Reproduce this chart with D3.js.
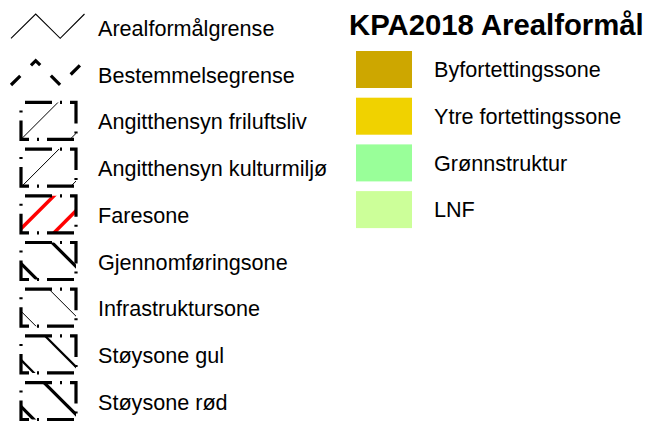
<!DOCTYPE html>
<html>
<head>
<meta charset="utf-8">
<script src="https://cdn.jsdelivr.net/npm/d3@7"></script>
<style>
html,body{margin:0;padding:0;background:#fff;}
svg{display:block;}
text{font-family:"Liberation Sans",Arial,sans-serif;fill:#000;}
</style>
</head>
<body>
<svg id="chart" width="650" height="421"></svg>
<script>
// ---- data ----
const title = "KPA2018 Arealformål";
const lineLabels = ["Arealformålgrense","Bestemmelsegrense","Angitthensyn friluftsliv","Angitthensyn kulturmiljø","Faresone","Gjennomføringsone","Infrastruktursone","Støysone gul","Støysone rød"];
const areaLabels = ["Byfortettingssone","Ytre fortettingssone","Grønnstruktur","LNF"];
const areaColors = ["#CDA700","#F0D200","#99FF99","#CCFF99"];

// ---- symbol styles (per line entry) ----
const symbolStyles = [
  {type:"zigzag"},
  {type:"dashzigzag"},
  {type:"hatch", dir:"/", offsets:[37,86], color:"#000", width:1},
  {type:"hatch", dir:"/", offsets:[38,87], color:"#000", width:1},
  {type:"hatch", dir:"/", offsets:[33,70], color:"#FF0000", width:3.5},
  {type:"hatch", dir:"\\", offsets:[31,-21], color:"#000", width:3.2},
  {type:"hatch", dir:"\\", offsets:[28,-22], color:"#000", width:1},
  {type:"hatch", dir:"\\", offsets:[24,-24], color:"#000", width:2.2},
  {type:"hatch", dir:"\\", offsets:[23,-24], color:"#000", width:3.2}
];

const svg = d3.select("#chart");
const step = 46.7;
const yLeft = d3.scaleLinear().domain([0, 1]).range([36, 36 + step]);      // label baselines
const yRight = d3.scaleLinear().domain([0, 1]).range([77.3, 77.3 + step]);

// ---- title ----
svg.append("text").attr("x", 349).attr("y", 35)
  .style("font-size", "29.3px").style("font-weight", "bold").text(title);

// ---- right legend ----
const right = svg.append("g").selectAll("g").data(areaLabels).join("g");
right.append("rect")
  .attr("x", 356).attr("y", (d, i) => yRight(i) - 26.3)
  .attr("width", 56).attr("height", 37)
  .attr("fill", (d, i) => areaColors[i]);
right.append("text")
  .attr("x", 434).attr("y", (d, i) => yRight(i))
  .style("font-size", "21.6px").text(d => d);

// ---- left legend ----
const left = svg.append("g").selectAll("g").data(lineLabels).join("g");
left.append("text")
  .attr("x", 98).attr("y", (d, i) => yLeft(i))
  .style("font-size", "21.6px").text(d => d);

const defs = svg.append("defs");
left.each(function(d, i) {
  const g = d3.select(this);
  const st = symbolStyles[i];
  const base = yLeft(i); // baseline
  if (st.type === "zigzag" || st.type === "dashzigzag") {
    const yb = base + 2.3, yt = base - 22;
    const pts = [[11, yb], [35.7, yt], [60.2, yb], [84.5, yt]];
    const p = g.append("path").attr("d", d3.line()(pts))
      .attr("fill", "none").attr("stroke", "#000");
    if (st.type === "zigzag") p.attr("stroke-width", 1.1);
    else p.attr("stroke-width", 3.2).attr("stroke-dasharray", "13,15");
  } else {
    const x0 = 21, y0 = base - 27, w = 55, h = 37;
    const id = "clip" + i;
    defs.append("clipPath").attr("id", id).append("rect")
      .attr("x", x0).attr("y", y0).attr("width", w).attr("height", h);
    const hg = g.append("g").attr("clip-path", `url(#${id})`);
    st.offsets.forEach(c => {
      let x1, y1, x2, y2;
      if (st.dir === "/") { x1 = c + 60; y1 = -60; x2 = c - 100; y2 = 100; }
      else { x1 = c - 60; y1 = -60; x2 = c + 100; y2 = 100; }
      hg.append("line")
        .attr("x1", x0 + x1).attr("y1", y0 + y1)
        .attr("x2", x0 + x2).attr("y2", y0 + y2)
        .attr("stroke", st.color).attr("stroke-width", st.width);
    });
    g.append("rect").attr("x", x0).attr("y", y0).attr("width", w).attr("height", h)
      .attr("fill", "none").attr("stroke", "#000").attr("stroke-width", 3.2)
      .attr("stroke-dasharray", "27,8,2,8").attr("stroke-dashoffset", 41);
  }
});
</script>
</body>
</html>
